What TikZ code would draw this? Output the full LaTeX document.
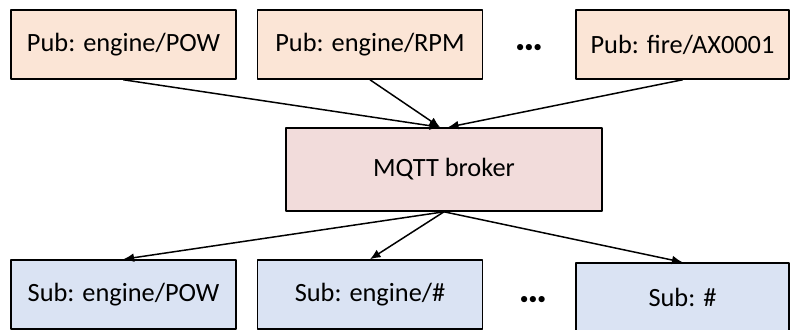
\documentclass[tikz,border=0pt]{standalone}
\usepackage{fontspec}
\setmainfont{Carlito}
\usetikzlibrary{arrows.meta}
\definecolor{pubfill}{HTML}{FBE5D6}
\definecolor{brokerfill}{HTML}{F2DCDB}
\definecolor{subfill}{HTML}{DAE3F3}

\begin{document}
\begin{tikzpicture}[x=0.02cm,y=-0.02cm,line cap=round,line join=round,
  box/.style={draw,line width=0.9pt,minimum width=4.5cm,minimum height=1.38cm,
    inner sep=0pt,font=\fontsize{15}{18}\selectfont},
  pub/.style={box,fill=pubfill},
  sub/.style={box,fill=subfill},
  more/.style={font=\fontsize{10}{12}\selectfont,inner sep=0pt},
  link/.style={line width=0.85pt,-{Latex[length=6pt,width=5pt]}}]
  \useasboundingbox (0,0) rectangle (790,329);
  % publishers
  \node[pub] (pubpow) at (123.5,44.5) {Pub: engine/POW};
  \node[pub] (pubrpm) at (370,44.5) {Pub: engine/RPM};
  \node[more] (pubdots) at (529,48) {•••};
  \node[pub,minimum width=4.26cm] (pubfire) at (682.5,44.5) {Pub: fire/AX0001};
  % broker
  \node[box,fill=brokerfill,minimum width=6.32cm,minimum height=1.66cm] (broker) at (444,169.5) {MQTT broker};
  \coordinate (inL) at ([xshift=-0.08cm]broker.north);
  \coordinate (inR) at ([xshift=0.08cm]broker.north);
  % subscribers
  \node[sub] (subpow) at (123.5,294.5) {Sub: engine/POW};
  \node[sub] (subeng) at (370,294.5) {Sub: engine/\#};
  \node[more] (subdots) at (533,300) {•••};
  \node[sub,minimum width=4.26cm] (suball) at (682.5,297.5) {Sub: \#};
  \draw[link] (pubpow.south) -- (inL);
  \draw[link] (pubrpm.south) -- (inL);
  \draw[link] (pubfire.south) -- (inR);
  \draw[link] (broker.south) -- (subpow.north);
  \draw[link] (broker.south) -- (subeng.north);
  \draw[link] (broker.south) -- (suball.north);
\end{tikzpicture}
\end{document}
